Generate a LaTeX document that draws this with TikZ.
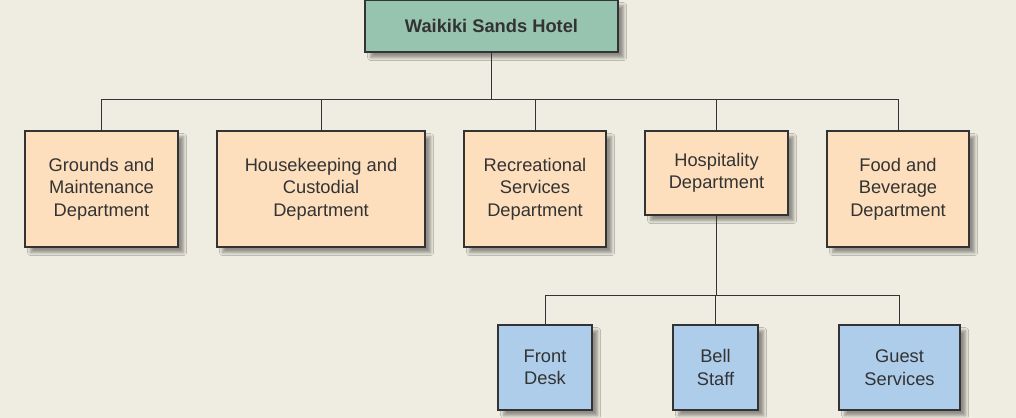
\documentclass[tikz,border=0pt]{standalone}
\usepackage{fontspec}
\setmainfont{Liberation Sans}
\usetikzlibrary{shadows.blur}
\definecolor{bgcol}{HTML}{EFECE1}
\definecolor{topcol}{HTML}{97C4AF}
\definecolor{deptcol}{HTML}{FDDFBE}
\definecolor{unitcol}{HTML}{AECDEB}
\begin{document}
\begin{tikzpicture}[x=0.025cm,y=-0.025cm,
    box/.style={draw=black!80, thick, align=center, inner sep=0pt,
      font=\fontsize{13}{16}\selectfont, text=black!80,
      blur shadow={shadow xshift=4pt, shadow yshift=-4pt, shadow blur steps=6}},
    dept/.style={box, fill=deptcol},
    unit/.style={box, fill=unitcol},
    link/.style={draw=black!80}]

    % Hintergrund
    \fill[bgcol] (0,0) rectangle (1016,418);
    \useasboundingbox (0,0) rectangle (1016,418);

    % Spitze
    \node[box, fill=topcol, minimum width=253*0.025cm, minimum height=52*0.025cm,
      font=\fontsize{13}{16}\selectfont\bfseries] (hotel) at (491.5,26) {Waikiki Sands Hotel};

    % Abteilungen
    \node[dept, minimum width=153*0.025cm, minimum height=116*0.025cm] (grounds) at (101.5,189) {Grounds and\\Maintenance\\Department};
    \node[dept, minimum width=208*0.025cm, minimum height=116*0.025cm] (house) at (321,189) {Housekeeping and\\Custodial\\Department};
    \node[dept, minimum width=142*0.025cm, minimum height=116*0.025cm] (recr) at (535,189) {Recreational\\Services\\Department};
    \node[dept, minimum width=143*0.025cm, minimum height=84*0.025cm] (hosp) at (716.5,173) {Hospitality\\Department};
    \node[dept, minimum width=142*0.025cm, minimum height=116*0.025cm] (food) at (898,189) {Food and\\Beverage\\Department};

    % Einheiten
    \node[unit, minimum width=94*0.025cm, minimum height=85*0.025cm] (front) at (545,367.5) {Front\\Desk};
    \node[unit, minimum width=85*0.025cm, minimum height=85*0.025cm] (bell) at (715.5,367.5) {Bell\\Staff};
    \node[unit, minimum width=121*0.025cm, minimum height=85*0.025cm] (guest) at (899.5,367.5) {Guest\\Services};

    % Linien
    \foreach \d in {grounds,house,recr,hosp,food}
      \draw[link] (hotel.south) -- ++(0,47) -| (\d.north);
    \foreach \u in {front,bell,guest}
      \draw[link] (hosp.south) -- ++(0,80) -| (\u.north);

\end{tikzpicture}
\end{document}
